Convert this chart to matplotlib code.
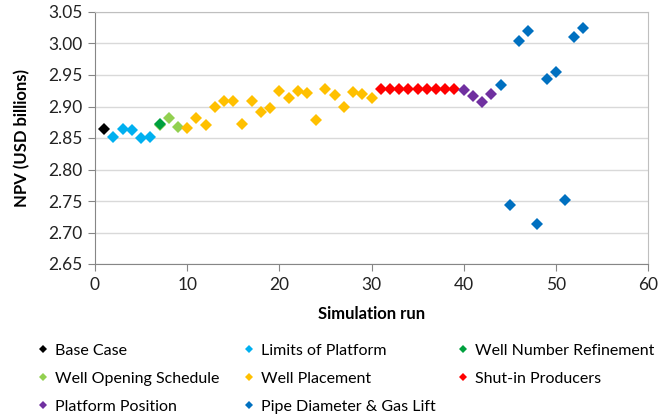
import matplotlib
matplotlib.use("Agg")
import matplotlib.pyplot as plt
from matplotlib.lines import Line2D

plt.rcParams['font.family'] = ['Lato', 'DejaVu Sans']

base_x = [1]
base_y = [2.864]
limits_x = [2, 3, 4, 5, 6]
limits_y = [2.852, 2.865, 2.862, 2.850, 2.852]
opening_x = [7, 8, 9]
opening_y = [2.870, 2.881, 2.868]
number_x = [7]
number_y = [2.873]
placement_x = list(range(10, 31))
placement_y = [2.866, 2.882, 2.870, 2.899, 2.909, 2.909, 2.872, 2.908, 2.891, 2.898,
               2.925, 2.914, 2.925, 2.922, 2.878, 2.927, 2.919, 2.900, 2.923, 2.920, 2.914]
shutin_x = list(range(31, 40))
shutin_y = [2.927, 2.927, 2.927, 2.927, 2.927, 2.928, 2.928, 2.928, 2.928]
platform_x = [40, 41, 42, 43]
platform_y = [2.926, 2.916, 2.907, 2.920]
pipe_x = [44, 45, 46, 47, 48, 49, 50, 51, 52, 53]
pipe_y = [2.934, 2.743, 3.004, 3.020, 2.713, 2.944, 2.955, 2.751, 3.010, 3.025]

series = [
    ("Base Case", base_x, base_y, "#000000"),
    ("Limits of Platform", limits_x, limits_y, "#00B0F0"),
    ("Well Opening Schedule", opening_x, opening_y, "#92D050"),
    ("Well Number Refinement", number_x, number_y, "#00A03E"),
    ("Well Placement", placement_x, placement_y, "#FFC000"),
    ("Shut-in Producers", shutin_x, shutin_y, "#FF0000"),
    ("Platform Position", platform_x, platform_y, "#7030A0"),
    ("Pipe Diameter & Gas Lift", pipe_x, pipe_y, "#0070C0"),
]

fig = plt.figure(figsize=(6.69, 4.2), dpi=100)
ax = fig.add_axes([95 / 669, 1 - 264 / 420, 553 / 669, 252 / 420])

handles = {}
for name, xs, ys, c in series:
    h, = ax.plot(xs, ys, linestyle='none', marker='D', markersize=6.5,
                 color=c, markeredgewidth=0, label=name, zorder=3)
    handles[name] = h

ax.set_xlim(0, 60)
ax.set_ylim(2.65, 3.05)
ax.set_xticks(range(0, 61, 10))
ax.set_yticks([2.65 + 0.05 * i for i in range(9)])
ax.set_yticklabels([f"{2.65 + 0.05 * i:.2f}" for i in range(9)])
ax.yaxis.grid(True, color='#D9D9D9', linewidth=1)
ax.set_axisbelow(True)
for s in ['top', 'right']:
    ax.spines[s].set_color('#BFBFBF')
for s in ['left', 'bottom']:
    ax.spines[s].set_color('#868686')
ax.tick_params(axis='both', direction='out', length=5, color='#868686',
               labelsize=12.5, labelcolor='#222222', pad=4)
ax.set_xlabel("Simulation run", fontsize=12, fontweight='bold', labelpad=10)
ax.set_ylabel("NPV (USD billions)", fontsize=12, fontweight='bold', labelpad=13)

columns = [
    (["Base Case", "Well Opening Schedule", "Platform Position"], 38),
    (["Limits of Platform", "Well Placement", "Pipe Diameter & Gas Lift"], 244),
    (["Well Number Refinement", "Shut-in Producers"], 458),
]
for names, xpx in columns:
    lh = [Line2D([], [], linestyle='none', marker='D', markersize=4.5,
                 color=handles[n].get_color(), markeredgewidth=0) for n in names]
    fig.legend(lh, names, loc='upper left', bbox_to_anchor=(xpx / 669, 0.182),
               ncol=1, frameon=False, fontsize=11.5, handlelength=0.6,
               handletextpad=0.45, labelspacing=0.87, borderaxespad=0,
               borderpad=0)

fig.savefig("out.png", dpi=100)
